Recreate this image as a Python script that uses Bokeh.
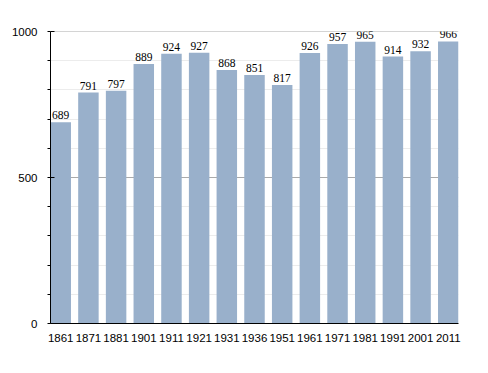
from bokeh.plotting import figure
from bokeh.models import Range1d, FixedTicker, ColumnDataSource, LabelSet, Span
from bokeh.embed import file_html
from bokeh.resources import INLINE

years = ["1861", "1871", "1881", "1901", "1911", "1921", "1931", "1936",
         "1951", "1961", "1971", "1981", "1991", "2001", "2011"]
population = [689, 791, 797, 889, 924, 927, 868, 851, 817, 926, 957, 965, 914, 932, 966]

FONT = "'Liberation Sans Narrow', 'Liberation Sans', sans-serif"
FS = "11.5px"

idx = list(range(len(years)))
src = ColumnDataSource(dict(x=idx, y=population, lab=[str(v) for v in population]))

p = figure(frame_width=408, frame_height=292, output_backend="svg", toolbar_location=None,
           x_range=Range1d(-0.37, len(years) - 1 + 0.37), y_range=Range1d(0, 1000),
           min_border_left=50, min_border_right=22, min_border_top=31, min_border_bottom=42)
p.outline_line_color = None
p.background_fill_color = "white"

# grid
p.xgrid.visible = False
p.ygrid.ticker = FixedTicker(ticks=[100, 200, 300, 400, 600, 700, 800, 900])
p.ygrid.grid_line_color = "#ececec"
for v in (500, 1000):
    p.add_layout(Span(location=v, dimension="width", line_color="#aaaaaa", line_width=1, level="underlay"))

p.vbar(x="x", top="y", width=0.74, source=src, fill_color="#99b0cb", line_color=None)

labels = LabelSet(x="x", y="y", text="lab", source=src, text_align="center",
                  text_baseline="bottom", y_offset=3, text_font_size=FS,
                  text_font=FONT, text_color="black")
p.add_layout(labels)

p.yaxis.ticker = FixedTicker(ticks=[0, 500, 1000], minor_ticks=list(range(0, 1001, 100)))
p.yaxis.major_tick_in = 4
p.yaxis.major_tick_out = 0
p.yaxis.minor_tick_in = 0
p.yaxis.minor_tick_out = 3
p.yaxis.major_label_standoff = 10
p.yaxis.major_label_text_font = FONT
p.yaxis.major_label_text_font_size = FS
p.yaxis.major_label_text_color = "black"
p.yaxis.axis_line_color = "black"
p.yaxis.major_tick_line_color = "black"
p.yaxis.minor_tick_line_color = "black"

p.xaxis.ticker = FixedTicker(ticks=idx)
p.xaxis.major_label_overrides = {i: y for i, y in zip(idx, years)}
p.xaxis.major_tick_line_color = None
p.xaxis.minor_tick_line_color = None
p.xaxis.major_label_standoff = 4
p.xaxis.major_label_text_font = FONT
p.xaxis.major_label_text_font_size = FS
p.xaxis.major_label_text_color = "black"
p.xaxis.axis_line_color = "black"

open("out.html", "w").write(file_html(p, INLINE))
